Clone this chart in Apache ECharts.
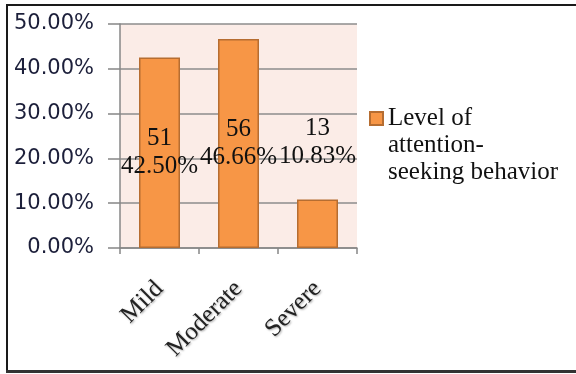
<!DOCTYPE html>
<html>
<head>
<meta charset="utf-8">
<script src="https://cdn.jsdelivr.net/npm/echarts@6/dist/echarts.min.js"></script>
<style>
  html, body { margin: 0; padding: 0; background: #ffffff; }
  #chart { width: 576px; height: 374px; }
</style>
</head>
<body>
<div id="chart"></div>
<script>
// Severity levels and their shares of respondents
var categories = ['Mild', 'Moderate', 'Severe'];
var counts = [51, 56, 13];
var percents = [42.50, 46.66, 10.83];
var yTicks = [0, 10, 20, 30, 40, 50];
var seriesName = 'Level of\nattention-\nseeking behavior';

var chart = echarts.init(document.getElementById('chart'), null, { renderer: 'canvas' });

var serif = '"Liberation Serif", "Times New Roman", serif';
var sans = '"DejaVu Sans", Tahoma, Verdana, sans-serif';

var barData = percents.map(function (v, i) {
  var item = { value: v };
  if (i === 2) {
    // the short bar carries its label above it
    item.label = { position: 'top', distance: 29 };
  }
  return item;
});

// frame: left, top and bottom edges only
var frameColor = '#1a1a1a';
chart.setOption({
  animation: false,
  backgroundColor: '#ffffff',
  graphic: [
    { type: 'line', shape: { x1: 7, y1: 5, x2: 576, y2: 5 }, style: { stroke: frameColor, lineWidth: 2 }, silent: true, z: 100 },
    { type: 'line', shape: { x1: 7, y1: 4, x2: 7, y2: 372 }, style: { stroke: frameColor, lineWidth: 2 }, silent: true, z: 100 },
    { type: 'line', shape: { x1: 6, y1: 371.5, x2: 576, y2: 371.5 }, style: { stroke: '#333', lineWidth: 3 }, silent: true, z: 100 }
  ],
  grid: {
    left: 120, right: 219, top: 24, bottom: 126,
    show: true, backgroundColor: '#fbece7', borderWidth: 0
  },
  legend: {
    left: 364, top: 100,
    itemWidth: 13, itemHeight: 67,
    // square swatch sitting beside the first line of the name
    icon: 'path://M0,0H13V13H0Z M0,67',
    data: [seriesName],
    textStyle: {
      fontFamily: serif, fontSize: 25, color: '#111', lineHeight: 27
    }
  },
  xAxis: {
    type: 'category',
    data: categories,
    axisLine: { lineStyle: { color: '#878787', width: 1.5 } },
    axisTick: { show: true, length: 6, lineStyle: { color: '#878787', width: 1.5 } },
    axisLabel: {
      rotate: 45, margin: 37, interval: 0,
      fontFamily: serif, fontSize: 25, color: '#222',
      textShadowColor: 'rgba(0,0,0,0.35)', textShadowBlur: 2, textShadowOffsetX: 1, textShadowOffsetY: 1
    }
  },
  yAxis: {
    type: 'value',
    min: yTicks[0], max: yTicks[yTicks.length - 1], interval: 10,
    axisLine: { show: true, lineStyle: { color: '#878787', width: 1.5 } },
    axisTick: { show: true, length: 12, lineStyle: { color: '#878787', width: 1.5 } },
    splitLine: { show: true, lineStyle: { color: '#8c8c8c', width: 1.5 } },
    axisLabel: {
      margin: 26,
      fontFamily: sans, fontSize: 21, color: '#1c1f3a',
      formatter: function (v) { return v.toFixed(2) + '%'; }
    }
  },
  series: [{
    name: seriesName,
    type: 'bar',
    barWidth: 41,
    data: barData,
    itemStyle: { color: '#f79646', borderColor: '#b66d31', borderWidth: 1.5 },
    label: {
      show: true,
      position: 'inside',
      fontFamily: serif, fontSize: 25, lineHeight: 28, color: '#111',
      formatter: function (p) {
        return counts[p.dataIndex] + '\n' + percents[p.dataIndex].toFixed(2) + '%';
      }
    }
  }]
});
</script>
</body>
</html>
